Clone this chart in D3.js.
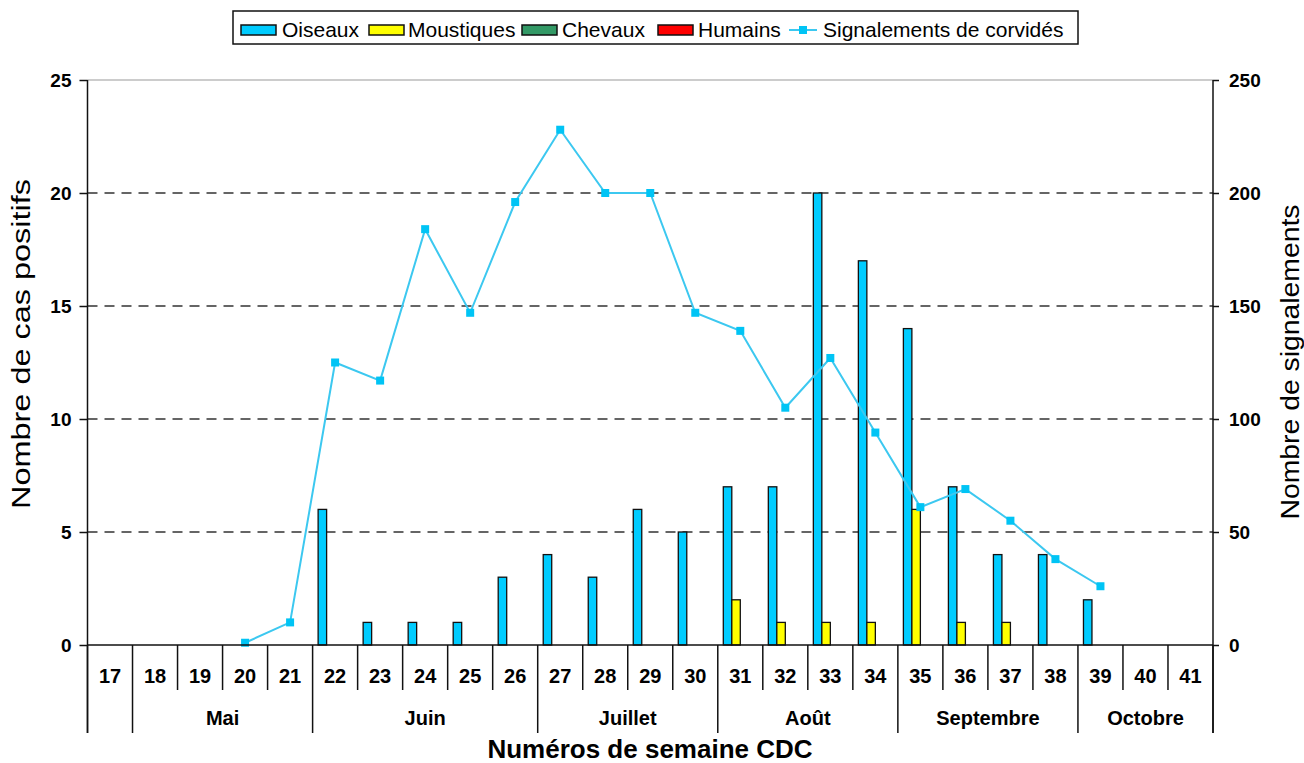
<!DOCTYPE html>
<html>
<head>
<meta charset="utf-8">
<script src="https://cdn.jsdelivr.net/npm/d3@7"></script>
<style>
  html, body { margin: 0; padding: 0; background: #fff; }
  svg { display: block; }
  text { font-family: "Liberation Sans", Arial, sans-serif; fill: #000; }
</style>
</head>
<body>
<svg id="chart" width="1304" height="763"></svg>
<script>
// ---- DATA ----
const weeks = ["17","18","19","20","21","22","23","24","25","26","27","28","29","30","31","32","33","34","35","36","37","38","39","40","41"];
const oiseaux    = [0,0,0,0,0,6,1,1,1,3,4,3,6,5,7,7,20,17,14,7,4,4,2,0,0];
const moustiques = [0,0,0,0,0,0,0,0,0,0,0,0,0,0,2,1,1,1,6,1,1,0,0,0,0];
const chevaux    = [0,0,0,0,0,0,0,0,0,0,0,0,0,0,0,0,0,0,0,0,0,0,0,0,0];
const humains    = [0,0,0,0,0,0,0,0,0,0,0,0,0,0,0,0,0,0,0,0,0,0,0,0,0];
const signalements = [null,null,null,1,10,125,117,184,147,196,228,200,200,147,139,105,127,94,61,69,55,38,26,null,null];
const seriesNames = ["Oiseaux","Moustiques","Chevaux","Humains"];
const lineName = "Signalements de corvidés";
const monthLabels = ["", "Mai", "Juin", "Juillet", "Août", "Septembre", "Octobre"];
const monthStart  = ["17","18","22","27","31","35","39"];
const monthEnd    = ["17","21","26","30","34","38","41"];
const leftTicks  = [0,5,10,15,20,25];
const rightTicks = [0,50,100,150,200,250];
const leftTitle = "Nombre de cas positifs";
const rightTitle = "Nombre de signalements";
const xTitle = "Numéros de semaine CDC";

// ---- STYLE ----
const colors = {Oiseaux:"#00CCFF", Moustiques:"#FFFF00", Chevaux:"#339966", Humains:"#FF0000"};
const lineColor = "#3CC8F0", markerColor = "#00C4F5";

const svg = d3.select("#chart");
const L = 87.5, R = 1213, T = 80, B = 645;

const x = d3.scaleBand().domain(weeks).range([L, R]).paddingInner(0).paddingOuter(0);
const xs = d3.scaleBand().domain(seriesNames).range([0, x.bandwidth()]).paddingInner(0).paddingOuter(0.65);
const yL = d3.scaleLinear().domain([0, 25]).range([B, T]);
const yR = d3.scaleLinear().domain([0, 250]).range([B, T]);

// gridlines
svg.append("g").selectAll("line").data(leftTicks.filter(t => t > 0 && t < 25)).join("line")
  .attr("x1", L).attr("x2", R).attr("y1", d => yL(d)).attr("y2", d => yL(d))
  .attr("stroke", "#333").attr("stroke-width", 1.5).attr("stroke-dasharray", "10,7");
svg.append("line").attr("x1", L).attr("x2", R).attr("y1", yL(25)).attr("y2", yL(25))
  .attr("stroke", "#999").attr("stroke-width", 1);

// bars
const barData = [];
weeks.forEach((w, i) => {
  const vals = [oiseaux[i], moustiques[i], chevaux[i], humains[i]];
  vals.forEach((v, j) => { if (v > 0) barData.push({w, s: seriesNames[j], v}); });
});
svg.append("g").selectAll("rect").data(barData).join("rect")
  .attr("x", d => x(d.w) + xs(d.s))
  .attr("width", xs.bandwidth())
  .attr("y", d => yL(d.v))
  .attr("height", d => yL(0) - yL(d.v))
  .attr("fill", d => colors[d.s])
  .attr("stroke", "#111").attr("stroke-width", 1.3);

// line
const pts = weeks.map((w, i) => ({w, v: signalements[i]})).filter(d => d.v !== null);
svg.append("path").datum(pts)
  .attr("fill", "none").attr("stroke", lineColor).attr("stroke-width", 2)
  .attr("d", d3.line().x(d => x(d.w) + x.bandwidth()/2).y(d => yR(d.v)));
svg.append("g").selectAll("rect").data(pts).join("rect")
  .attr("x", d => x(d.w) + x.bandwidth()/2 - 4).attr("y", d => yR(d.v) - 4)
  .attr("width", 8).attr("height", 8).attr("fill", markerColor);

// axes lines
const axisG = svg.append("g").attr("stroke", "#111").attr("stroke-width", 1.5);
axisG.append("line").attr("x1", L).attr("x2", L).attr("y1", T).attr("y2", 733);
axisG.append("line").attr("x1", R).attr("x2", R).attr("y1", T).attr("y2", 733);
axisG.append("line").attr("x1", L).attr("x2", R).attr("y1", B).attr("y2", B);

// left axis
const gl = svg.append("g").attr("transform", `translate(${L},0)`)
  .call(d3.axisLeft(yL).tickValues(leftTicks).tickSize(8).tickPadding(8).tickFormat(d3.format("d")));
gl.select(".domain").remove();
gl.selectAll(".tick line").attr("stroke", "#111").attr("stroke-width", 1.5);
gl.selectAll(".tick text").attr("font-size", 19).attr("font-weight", "bold").attr("fill", "#000")
  .attr("font-family", '"Liberation Sans", Arial, sans-serif').attr("dy", "0.36em");

// right axis
const gr = svg.append("g").attr("transform", `translate(${R},0)`)
  .call(d3.axisRight(yR).tickValues(rightTicks).tickSize(6).tickPadding(10).tickFormat(d3.format("d")));
gr.select(".domain").remove();
gr.selectAll(".tick line").attr("stroke", "#111").attr("stroke-width", 1.5);
gr.selectAll(".tick text").attr("font-size", 19).attr("font-weight", "bold").attr("fill", "#000")
  .attr("font-family", '"Liberation Sans", Arial, sans-serif').attr("dy", "0.36em");

// week dividers and labels
const boundaries = weeks.map(w => x(w)).concat([R]);
const monthBounds = new Set(monthStart.map(w => x(w)).concat([R]));
svg.append("g").selectAll("line").data(boundaries).join("line")
  .attr("x1", d => d).attr("x2", d => d).attr("y1", B)
  .attr("y2", d => monthBounds.has(d) ? 733 : 690)
  .attr("stroke", "#111").attr("stroke-width", 1.5);
svg.append("g").selectAll("text").data(weeks).join("text")
  .attr("x", d => x(d) + x.bandwidth()/2).attr("y", 683)
  .attr("text-anchor", "middle").attr("font-size", 20).attr("font-weight", "bold")
  .text(d => d);
svg.append("g").selectAll("text").data(monthLabels.map((m, i) => ({m, s: monthStart[i], e: monthEnd[i]}))).join("text")
  .attr("x", d => (x(d.s) + x(d.e) + x.bandwidth()) / 2).attr("y", 725)
  .attr("text-anchor", "middle").attr("font-size", 20).attr("font-weight", "bold")
  .text(d => d.m);

// titles
svg.append("text").attr("x", 650).attr("y", 758).attr("text-anchor", "middle")
  .attr("font-size", 26).attr("font-weight", "bold").text(xTitle);
svg.append("text").attr("transform", "translate(30,344) rotate(-90)").attr("text-anchor", "middle")
  .attr("font-size", 25).attr("textLength", 330).attr("lengthAdjust", "spacingAndGlyphs").text(leftTitle);
svg.append("text").attr("transform", "translate(1299,362) rotate(-90)").attr("text-anchor", "middle")
  .attr("font-size", 25).attr("textLength", 315).attr("lengthAdjust", "spacingAndGlyphs").text(rightTitle);

// legend
const lg = svg.append("g");
lg.append("rect").attr("x", 233).attr("y", 11).attr("width", 845).attr("height", 33)
  .attr("fill", "#fff").attr("stroke", "#111").attr("stroke-width", 1.5);
const swX = [241, 369, 522, 658];
const txX = [282, 408, 562, 698];
seriesNames.forEach((s, i) => {
  lg.append("rect").attr("x", swX[i]).attr("y", 25).attr("width", 35).attr("height", 10)
    .attr("fill", colors[s]).attr("stroke", "#111").attr("stroke-width", 1.5);
  lg.append("text").attr("x", txX[i]).attr("y", 37).attr("font-size", 21).text(s);
});
lg.append("line").attr("x1", 789).attr("x2", 817).attr("y1", 30).attr("y2", 30)
  .attr("stroke", lineColor).attr("stroke-width", 2);
lg.append("rect").attr("x", 799).attr("y", 26).attr("width", 8).attr("height", 8).attr("fill", markerColor);
lg.append("text").attr("x", 823).attr("y", 37).attr("font-size", 21).text(lineName);
</script>
</body>
</html>
